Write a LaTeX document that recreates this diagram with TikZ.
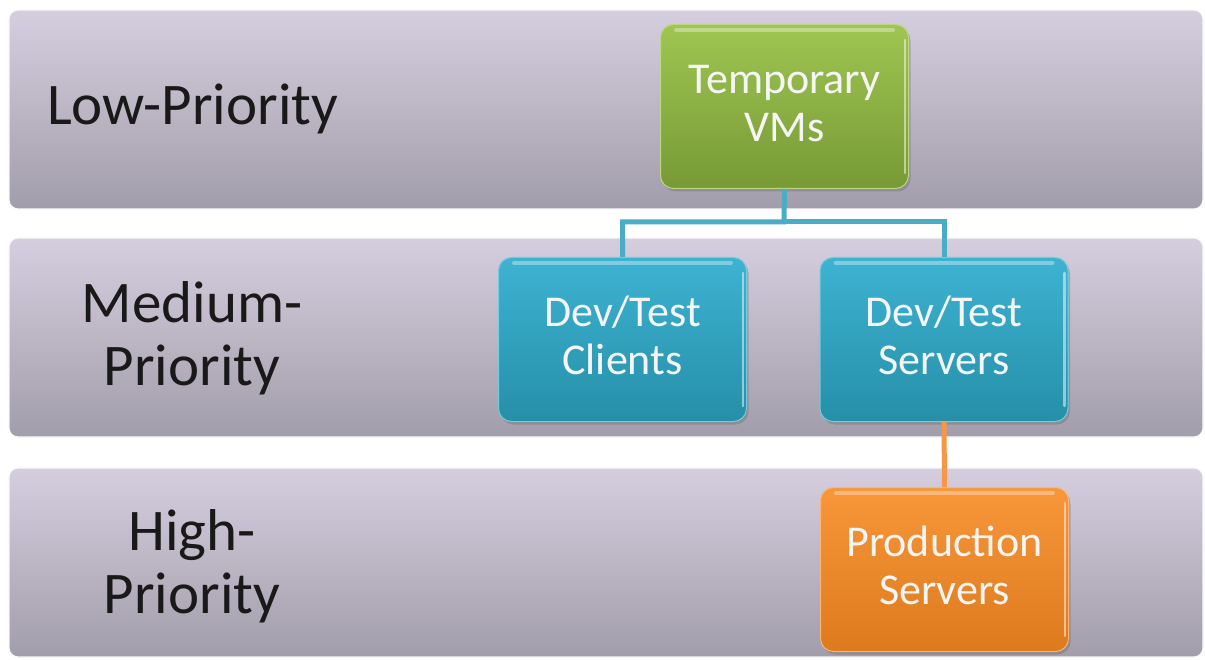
\documentclass[tikz,border=0pt]{standalone}
\usepackage{fontspec}
\setmainfont{Carlito}
\usetikzlibrary{shadows,calc}
\definecolor{bandtop}{HTML}{D5CEDF}
\definecolor{bandbot}{HTML}{A29DAA}
\definecolor{grtop}{HTML}{9FC552}
\definecolor{grbot}{HTML}{779A35}
\definecolor{bltop}{HTML}{3DB3D2}
\definecolor{blbot}{HTML}{268FA8}
\definecolor{ortop}{HTML}{F8963A}
\definecolor{orbot}{HTML}{DD7A1E}
\definecolor{conblue}{HTML}{4BACC6}
\definecolor{conorange}{HTML}{F79646}
\newcommand{\topstrut}{\rule{0pt}{34pt}}
\newcommand{\botstrut}{\rule[-12pt]{0pt}{12pt}}
\tikzset{
  band/.style={rounded corners=9pt, top color=bandtop, bottom color=bandbot, draw=white!85!bandtop, line width=1.2pt},
  bandlabel/.style={anchor=base, text=black!90, font=\fontsize{59}{62}\selectfont, inner sep=0pt},
  prbox/.style={rounded corners=13pt, minimum width=248pt, minimum height=164pt, inner sep=0pt,
     align=center, text=white!96!black, font=\fontsize{44}{48}\selectfont,
     drop shadow={shadow xshift=2pt, shadow yshift=-3pt, opacity=0.35, fill=black!60}},
  greenbox/.style={prbox, top color=grtop, bottom color=grbot, draw=grtop!70!white, line width=1pt},
  bluebox/.style={prbox, top color=bltop, bottom color=blbot, draw=bltop!70!white, line width=1pt},
  orangebox/.style={prbox, top color=ortop, bottom color=orbot, draw=ortop!70!white, line width=1pt},
  gloss/.style={white, opacity=0.35, line width=4pt, line cap=round},
  conn/.style={line width=5pt, draw=conblue},
  connor/.style={line width=5pt, draw=conorange},
}
\begin{document}
\begin{tikzpicture}[x=1pt,y=-1pt]
\useasboundingbox (0,0) rectangle (1205,660);
\fill[white] (0,0) rectangle (1205,660);
% bands
\path[band] (9,10) rectangle (1203,209);
\path[band] (9,238) rectangle (1203,437);
\path[band] (9,468) rectangle (1203,657);
% band labels
\node[bandlabel, anchor=base west] (llow) at (47,125) {Low-Priority};
\node[bandlabel] (lmed1) at (192,323) {Medium-};
\node[bandlabel] (lmed2) at (192,385) {Priority};
\node[bandlabel] (lhigh1) at (192,550) {High-};
\node[bandlabel] (lhigh2) at (192,613) {Priority};
% junction of the tree connector
\coordinate (j) at (784,222);
% boxes
\node[greenbox] (tv) at (784.5,106.5) {\topstrut Temporary\\VMs\botstrut};
\node[bluebox] (dc) at (622.5,339.5) {\topstrut Dev/Test\\Clients\botstrut};
\node[bluebox] (ds) at (944,339.5) {\topstrut Dev/Test\\Servers\botstrut};
\node[orangebox] (ps) at (944.5,569.5) {\topstrut Production\\Servers\botstrut};
% glossy highlights
\foreach \b in {tv,dc,ds,ps}{
  \draw[gloss] ($(\b.north west)+(16,6)$) -- ($(\b.north east)+(-16,6)$);
  \draw[gloss, opacity=0.5, line width=2.5pt] ($(\b.north east)+(-4,16)$) -- ($(\b.south east)+(-4,-16)$);
}
% connectors
\draw[conn] (tv.south) -- (j) -| (dc.north);
\draw[conn] (j) -| (ds.north);
\draw[connor] (ds.south) -- (ps.north);
\end{tikzpicture}
\end{document}
